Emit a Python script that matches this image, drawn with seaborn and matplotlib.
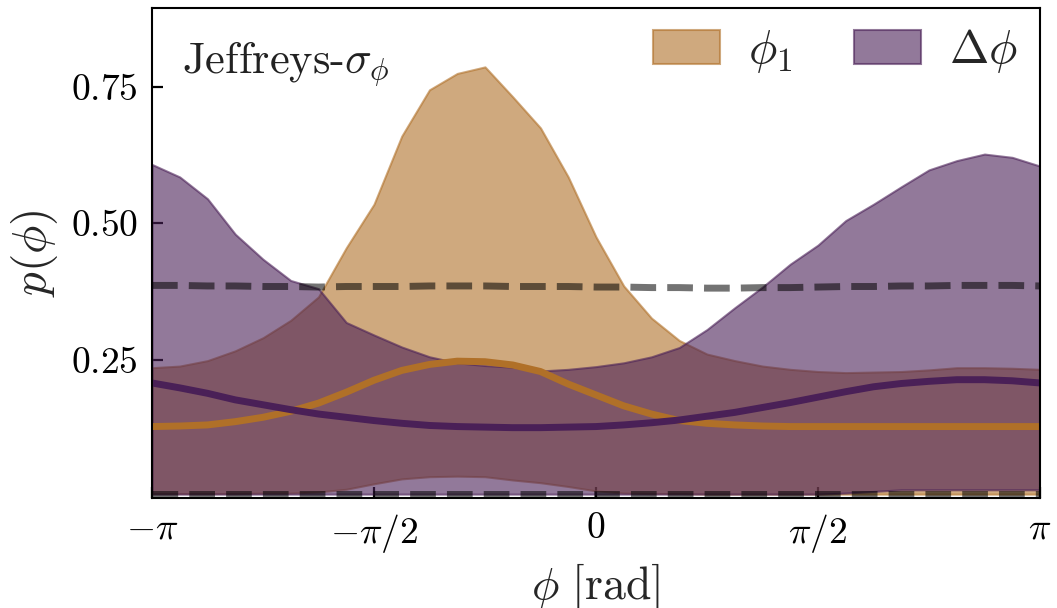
import numpy as np
import seaborn as sns
import matplotlib.pyplot as plt

# sample positions along phi (33 points from -pi to pi)
phi = np.linspace(-np.pi, np.pi, 33)

# phi_1 band (upper / lower envelope) and mean density
phi1_hi = [0.235, 0.238, 0.248, 0.266, 0.290, 0.322, 0.365, 0.455, 0.535, 0.660, 0.745,
           0.775, 0.787, 0.732, 0.675, 0.585, 0.475, 0.385, 0.326, 0.285, 0.260, 0.248,
           0.238, 0.232, 0.228, 0.226, 0.227, 0.228, 0.231, 0.235, 0.235, 0.234, 0.232]
phi1_lo = [0.004, 0.004, 0.004, 0.004, 0.005, 0.005, 0.007, 0.012, 0.022, 0.031, 0.035,
           0.036, 0.035, 0.029, 0.024, 0.017, 0.009, 0.005, 0.004, 0.004, 0.003, 0.003,
           0.003, 0.003, 0.003, 0.003, 0.003, 0.003, 0.003, 0.003, 0.003, 0.003, 0.003]
phi1_mean = [0.127, 0.128, 0.130, 0.136, 0.144, 0.155, 0.170, 0.190, 0.212, 0.230, 0.241,
             0.247, 0.246, 0.240, 0.228, 0.205, 0.185, 0.165, 0.150, 0.138, 0.133, 0.130,
             0.128, 0.127, 0.127, 0.127, 0.127, 0.127, 0.127, 0.127, 0.127, 0.127, 0.127]

# delta phi band and mean density
dphi_hi = [0.608, 0.585, 0.545, 0.480, 0.434, 0.395, 0.380, 0.318, 0.295, 0.273, 0.255,
           0.244, 0.239, 0.236, 0.229, 0.232, 0.237, 0.244, 0.255, 0.272, 0.305, 0.345,
           0.383, 0.425, 0.460, 0.505, 0.535, 0.567, 0.598, 0.615, 0.627, 0.621, 0.605]
dphi_lo = [0.003, 0.003, 0.003, 0.003, 0.003, 0.003, 0.003, 0.003, 0.003, 0.003, 0.003,
           0.003, 0.003, 0.003, 0.003, 0.003, 0.003, 0.003, 0.003, 0.003, 0.003, 0.003,
           0.003, 0.003, 0.003, 0.005, 0.008, 0.011, 0.011, 0.011, 0.011, 0.011, 0.011]
dphi_mean = [0.207, 0.198, 0.188, 0.176, 0.167, 0.158, 0.150, 0.144, 0.138, 0.133, 0.129,
             0.127, 0.126, 0.125, 0.125, 0.126, 0.127, 0.130, 0.134, 0.139, 0.146, 0.153,
             0.162, 0.171, 0.181, 0.191, 0.200, 0.206, 0.210, 0.213, 0.213, 0.211, 0.207]

# prior band (dashed)
prior_hi = [0.386, 0.386, 0.385, 0.385, 0.384, 0.384, 0.383, 0.384, 0.384, 0.384, 0.385,
            0.385, 0.385, 0.384, 0.384, 0.384, 0.383, 0.383, 0.382, 0.382, 0.381, 0.381,
            0.382, 0.382, 0.383, 0.384, 0.384, 0.385, 0.385, 0.386, 0.386, 0.386, 0.385]
prior_lo = [0.004] * 33

xticks = [-np.pi, -np.pi / 2, 0, np.pi / 2, np.pi]
xticklabels = [r'$-\pi$', r'$-\pi/2$', r'$0$', r'$\pi/2$', r'$\pi$']
yticks = [0.25, 0.50, 0.75]
yticklabels = [r'$0.25$', r'$0.50$', r'$0.75$']

c_phi1 = '#b07028'
c_dphi = '#4a2057'

sns.set_theme(style='ticks')
plt.rcParams['font.family'] = ['cmr10', 'DejaVu Serif']
plt.rcParams['mathtext.fontset'] = 'cm'
plt.rcParams['axes.unicode_minus'] = False
plt.rcParams['axes.formatter.use_mathtext'] = True

fig = plt.figure(figsize=(10.57, 6.08), dpi=100)
ax = fig.add_axes([0.1438, 0.181, 0.8401, 0.8058])

ax.fill_between(phi, phi1_lo, phi1_hi, color=c_phi1, alpha=0.6, lw=1.5, label=r'$\phi_1$')
ax.fill_between(phi, dphi_lo, dphi_hi, color=c_dphi, alpha=0.6, lw=1.5, label=r'$\Delta\phi$')

sns.lineplot(x=phi, y=prior_hi, color='black', alpha=0.55, lw=5, linestyle='--', ax=ax)
sns.lineplot(x=phi, y=prior_lo, color='black', alpha=0.55, lw=5, linestyle='--', ax=ax)

sns.lineplot(x=phi, y=phi1_mean, color=c_phi1, lw=5, ax=ax)
sns.lineplot(x=phi, y=dphi_mean, color=c_dphi, lw=5, ax=ax)

ax.set_xlim(-np.pi, np.pi)
ax.set_ylim(-0.004, 0.895)
ax.set_xticks(xticks)
ax.set_xticklabels(xticklabels)
ax.set_yticks(yticks)
ax.set_yticklabels(yticklabels)
ax.tick_params(direction='in', length=8, width=1.6, labelsize=27, colors='black', pad=10)

for s in ax.spines.values():
    s.set_color('black')
    s.set_linewidth(1.5)

ax.set_xlabel(r'$\phi\ [\mathrm{rad}]$', fontsize=33, labelpad=5)
ax.set_ylabel(r'$p(\phi)$', fontsize=34, labelpad=8)

ax.text(0.034, 0.935, r'Jeffreys-$\sigma_\phi$', transform=ax.transAxes,
        fontsize=32, color='#222222', va='top', ha='left')

ax.legend(loc='upper right', bbox_to_anchor=(1.012, 1.028), ncol=2, frameon=False,
          fontsize=34, handlelength=1.42, handleheight=0.72, handletextpad=0.6,
          columnspacing=1.3, borderaxespad=0.3)

fig.savefig('out.png', dpi=100)
